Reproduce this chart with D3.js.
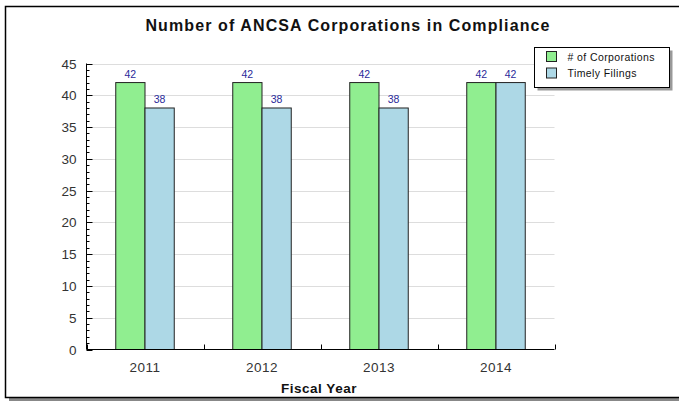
<!DOCTYPE html>
<html>
<head>
<meta charset="utf-8">
<script src="https://cdn.jsdelivr.net/npm/d3@7"></script>
<style>
  body { margin: 0; background: #fff; }
  svg { display: block; font-family: Arial, "Liberation Sans", sans-serif; }
</style>
</head>
<body>
<svg id="chart" width="679" height="402"></svg>
<script>
'use strict';

const years = ['2011', '2012', '2013', '2014'];
const seriesNames = ['# of Corporations', 'Timely Filings'];
const corporations = [42, 42, 42, 42];
const timelyFilings = [38, 38, 38, 42];
const yTicks = [0, 5, 10, 15, 20, 25, 30, 35, 40, 45];

const seriesColors = ['#90ee90', '#add8e6'];
const svg = d3.select('#chart');

// outer frame with shadow
svg.append('rect')
  .attr('x', 9).attr('y', 10)
  .attr('width', 700).attr('height', 391)
  .attr('fill', '#888');
svg.append('rect')
  .attr('x', 5.5).attr('y', 6.5)
  .attr('width', 700).attr('height', 391)
  .attr('fill', '#fff')
  .attr('stroke', '#000')
  .attr('stroke-width', 1.5);

const plotLeft = 86.5, plotRight = 554.5, plotTop = 63.5, plotBottom = 349.5;

const x = d3.scaleBand()
  .domain(years)
  .range([plotLeft, plotRight])
  .paddingInner(0.5)
  .paddingOuter(0.25);

const x1 = d3.scaleBand()
  .domain(seriesNames)
  .range([0, x.bandwidth()]);

const y = d3.scaleLinear()
  .domain([0, 45])
  .range([plotBottom, plotTop]);

// gridlines
svg.append('g')
  .selectAll('line')
  .data(yTicks.filter(d => d > 0))
  .enter().append('line')
  .attr('x1', plotLeft).attr('x2', plotRight)
  .attr('y1', d => Math.round(y(d)) + 0.5)
  .attr('y2', d => Math.round(y(d)) + 0.5)
  .attr('stroke', '#dddddd');

// title
svg.append('text')
  .attr('x', 348).attr('y', 31)
  .attr('text-anchor', 'middle')
  .attr('font-size', '16px')
  .attr('font-weight', 'bold')
  .attr('letter-spacing', '1.1px')
  .attr('fill', '#111')
  .text('Number of ANCSA Corporations in Compliance');

// bars
const rows = years.map((yr, i) => [
  { name: seriesNames[0], value: corporations[i], color: seriesColors[0] },
  { name: seriesNames[1], value: timelyFilings[i], color: seriesColors[1] }
]);

const groups = svg.append('g')
  .selectAll('g')
  .data(years)
  .enter().append('g')
  .attr('transform', d => 'translate(' + x(d) + ',0)');

groups.selectAll('rect')
  .data((yr, i) => rows[i])
  .enter().append('rect')
  .attr('x', d => x1(d.name))
  .attr('y', d => y(d.value))
  .attr('width', x1.bandwidth())
  .attr('height', d => plotBottom - y(d.value))
  .attr('fill', d => d.color)
  .attr('stroke', '#222')
  .attr('stroke-width', 1);

groups.selectAll('text')
  .data((yr, i) => rows[i])
  .enter().append('text')
  .attr('x', d => x1(d.name) + x1.bandwidth() / 2)
  .attr('y', d => y(d.value) - 5)
  .attr('text-anchor', 'middle')
  .attr('font-size', '10.5px')
  .attr('fill', '#2a2a9a')
  .text(d => String(d.value));

// y axis with inward ticks and minor ticks
const yAxis = svg.append('g');
yAxis.append('line')
  .attr('x1', plotLeft).attr('x2', plotLeft)
  .attr('y1', plotTop).attr('y2', plotBottom)
  .attr('stroke', '#000');
yAxis.selectAll('.minor')
  .data(d3.range(0, 46))
  .enter().append('line')
  .attr('x1', plotLeft)
  .attr('x2', d => plotLeft + (d % 5 === 0 ? 6 : 3))
  .attr('y1', d => Math.round(y(d)) + 0.5)
  .attr('y2', d => Math.round(y(d)) + 0.5)
  .attr('stroke', '#000');
yAxis.selectAll('text')
  .data(yTicks)
  .enter().append('text')
  .attr('x', plotLeft - 10)
  .attr('y', d => y(d) + 5)
  .attr('text-anchor', 'end')
  .attr('font-size', '13.5px')
  .attr('fill', '#333')
  .text(d => d);

// x axis
const xAxis = svg.append('g');
xAxis.append('line')
  .attr('x1', plotLeft).attr('x2', plotRight)
  .attr('y1', plotBottom).attr('y2', plotBottom)
  .attr('stroke', '#000');
const boundaries = years.map(d => x(d) - x.step() * 0.25).concat([plotRight]);
xAxis.selectAll('.tick')
  .data(boundaries)
  .enter().append('line')
  .attr('x1', d => Math.round(d) + 0.5).attr('x2', d => Math.round(d) + 0.5)
  .attr('y1', plotBottom).attr('y2', plotBottom - 5)
  .attr('stroke', '#000');
xAxis.selectAll('text')
  .data(years)
  .enter().append('text')
  .attr('x', d => x(d) + x.bandwidth() / 2)
  .attr('y', 372)
  .attr('text-anchor', 'middle')
  .attr('font-size', '13.5px')
  .attr('letter-spacing', '0.5px')
  .attr('fill', '#333')
  .text(d => d);

svg.append('text')
  .attr('x', 319).attr('y', 393)
  .attr('text-anchor', 'middle')
  .attr('font-size', '13.5px')
  .attr('font-weight', 'bold')
  .attr('letter-spacing', '0.5px')
  .attr('fill', '#111')
  .text('Fiscal Year');

// legend
const legend = svg.append('g').attr('transform', 'translate(534.5,47.5)');
legend.append('rect')
  .attr('x', 3).attr('y', 3)
  .attr('width', 135).attr('height', 40)
  .attr('fill', '#999');
legend.append('rect')
  .attr('width', 135).attr('height', 40)
  .attr('fill', '#fff')
  .attr('stroke', '#000');
seriesNames.forEach((name, i) => {
  legend.append('rect')
    .attr('x', 12).attr('y', 4 + i * 16.5)
    .attr('width', 10).attr('height', 10)
    .attr('fill', seriesColors[i])
    .attr('stroke', '#222');
  legend.append('text')
    .attr('x', 33).attr('y', 13 + i * 16.5)
    .attr('font-size', '10.5px')
    .attr('letter-spacing', '0.4px')
    .attr('fill', '#111')
    .text(name);
});
</script>
</body>
</html>
